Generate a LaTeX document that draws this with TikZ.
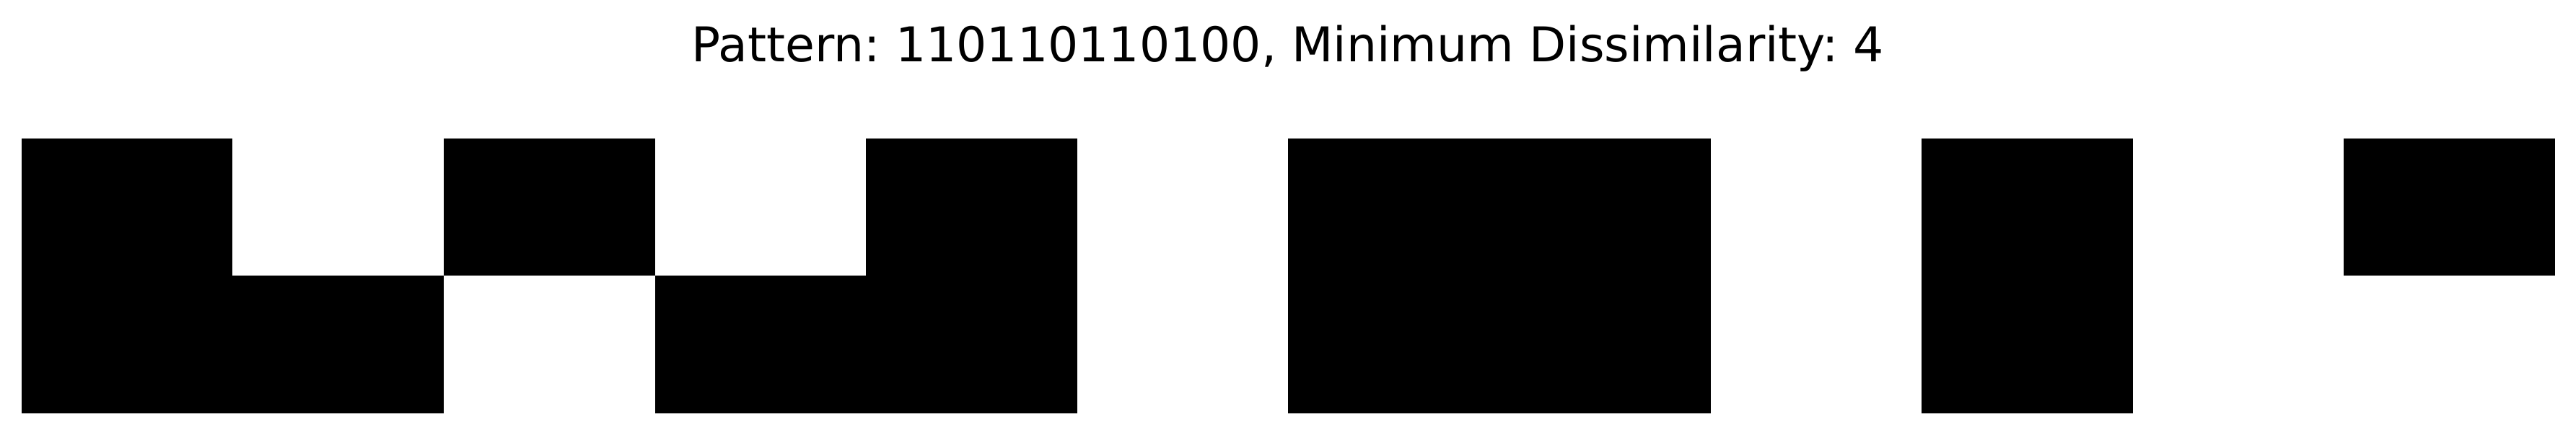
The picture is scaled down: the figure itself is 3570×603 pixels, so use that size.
\documentclass[tikz,border=0pt]{standalone}
\usepackage{fontspec}
\setmainfont{DejaVu Sans}
\frenchspacing
\begin{document}
\begin{tikzpicture}[x=0.1mm,y=0.1mm, font=\fontsize{18.9pt}{23pt}\selectfont, line join=round]
				\def\cw{292.6} \def\ch{190.5} % cell size
				\def\xo{29.7} \def\yo{30}
				\useasboundingbox (0,0) rectangle (3570,603);
				\node[anchor=base] (title) at (1785,517) {Pattern: 110110110100, Minimum Dissimilarity: 4};
				% top row
				\foreach \b [count=\i from 0] in {1,0,1,0,1,0,1,1,0,1,0,1}
				{\ifnum\b=1 \fill[black] ({\xo+\i*\cw},{\yo+\ch}) rectangle ++(\cw,\ch); \fi}
				% bottom row
				\foreach \b [count=\i from 0] in {1,1,0,1,1,0,1,1,0,1,0,0}
				{\ifnum\b=1 \fill[black] ({\xo+\i*\cw},\yo) rectangle ++(\cw,\ch); \fi}
			\end{tikzpicture}
\end{document}
